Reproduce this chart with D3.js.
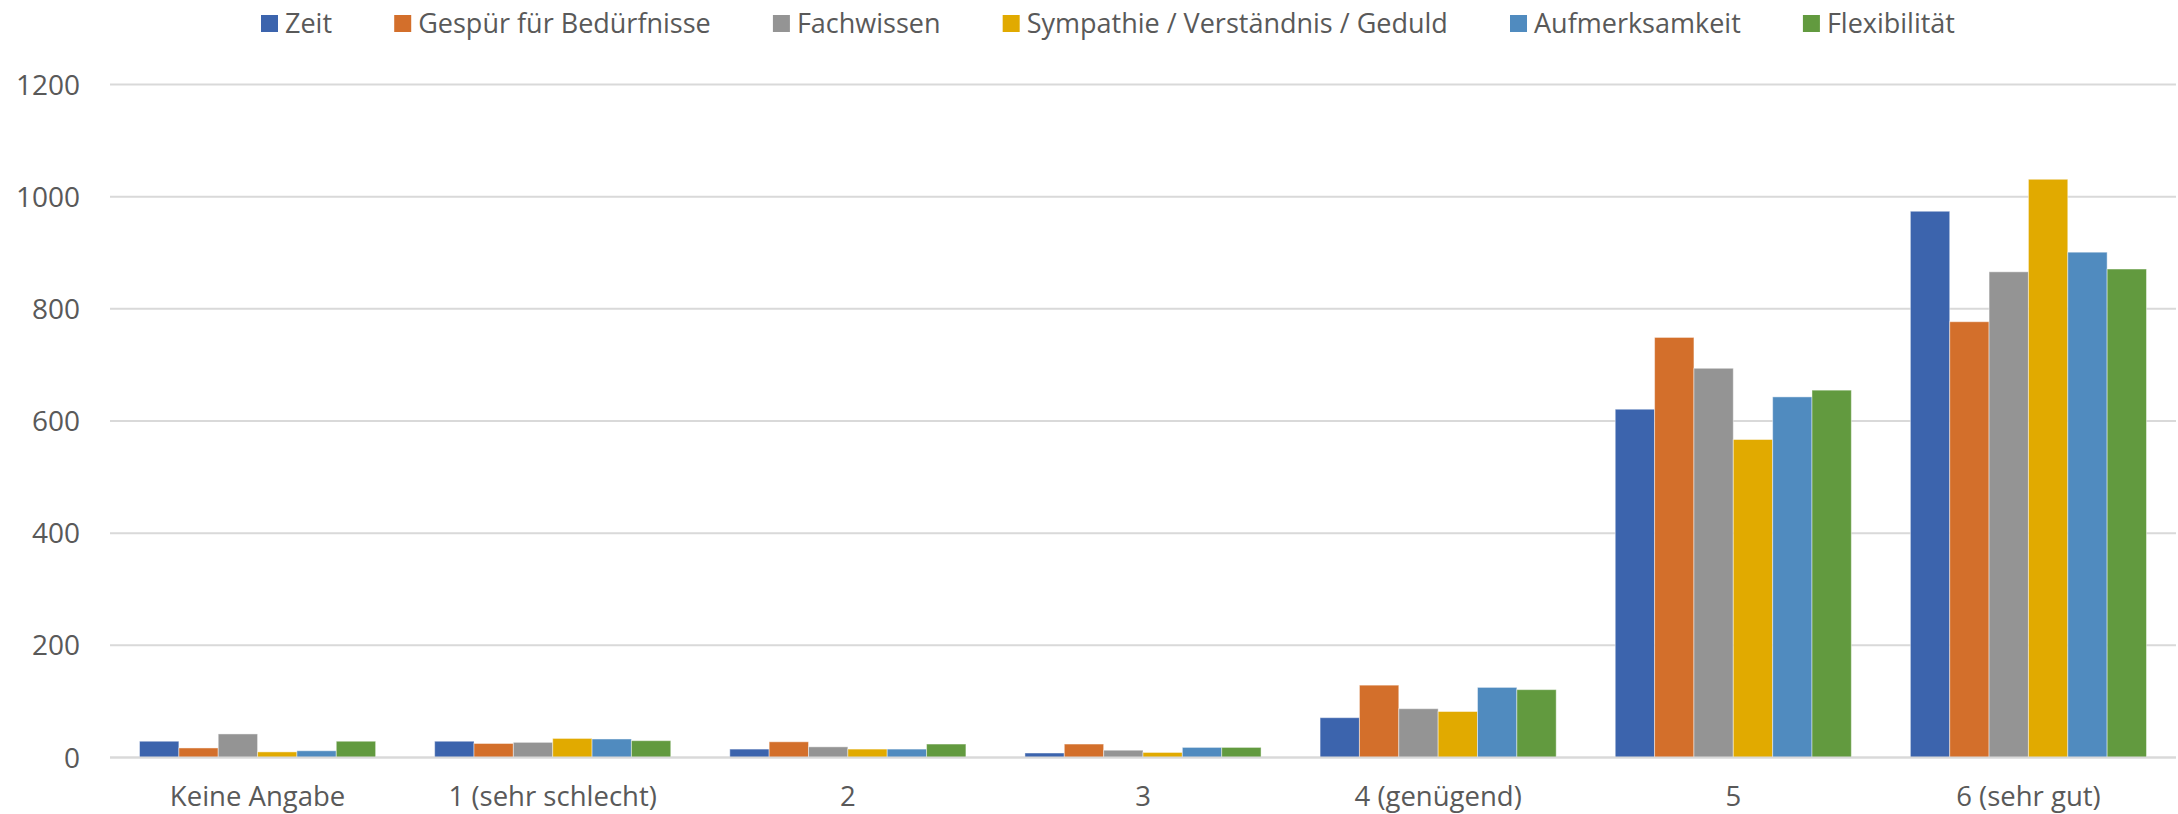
<!DOCTYPE html>
<html>
<head>
<meta charset="utf-8">
<script src="https://cdn.jsdelivr.net/npm/d3@7"></script>
<style>
  html, body { margin: 0; padding: 0; background: #fff; }
  svg { display: block; }
  text { font-family: "Open Sans", "Noto Sans", sans-serif; fill: #595959; }
</style>
</head>
<body>
<svg id="chart" width="2178" height="814"></svg>
<script>
const categories = ["Keine Angabe", "1 (sehr schlecht)", "2", "3", "4 (genügend)", "5", "6 (sehr gut)"];
const seriesNames = ["Zeit", "Gespür für Bedürfnisse", "Fachwissen", "Sympathie / Verständnis / Geduld", "Aufmerksamkeit", "Flexibilität"];
const zeit        = [29, 29, 15, 8, 71, 621, 974];
const gespuer     = [17, 25, 28, 24, 129, 749, 777];
const fachwissen  = [42, 27, 19, 13, 87, 694, 866];
const sympathie   = [10, 34, 15, 9, 82, 567, 1031];
const aufmerksam  = [12, 33, 15, 18, 125, 643, 901];
const flexibel    = [29, 30, 24, 18, 121, 655, 871];
const yTicks = [0, 200, 400, 600, 800, 1000, 1200];
const colors = ["#3C64AD", "#D36F2B", "#949494", "#E1AA00", "#508BBF", "#629A3F"];

const seriesValues = [zeit, gespuer, fachwissen, sympathie, aufmerksam, flexibel];

const svg = d3.select("#chart");
const plotLeft = 110, plotRight = 2176, plotTop = 84.5, plotBottom = 757.5;

const x0 = d3.scaleBand().domain(categories).range([plotLeft, plotRight]).paddingInner(0.2).paddingOuter(0.1);
const x1 = d3.scaleBand().domain(seriesNames).range([0, x0.bandwidth()]).padding(0);
const y = d3.scaleLinear().domain([0, 1200]).range([plotBottom, plotTop]);

// gridlines
svg.append("g").selectAll("line").data(yTicks).join("line")
  .attr("x1", plotLeft).attr("x2", plotRight)
  .attr("y1", d => y(d)).attr("y2", d => y(d))
  .attr("stroke", "#d9d9d9").attr("stroke-width", 2);

// y axis labels
const yAxis = d3.axisLeft(y).tickValues(yTicks).tickFormat(d3.format("d")).tickSize(0).tickPadding(0);
const yg = svg.append("g").attr("transform", `translate(80,0)`).call(yAxis);
yg.select(".domain").remove();
yg.selectAll("text").attr("font-size", 28).attr("fill", "#595959")
  .style("font-family", '"Open Sans", "Noto Sans", sans-serif').attr("dy", "0.34em");

// bars
const groups = svg.append("g").selectAll("g").data(categories).join("g")
  .attr("transform", d => `translate(${x0(d)},0)`);
groups.selectAll("rect")
  .data((c, ci) => seriesNames.map((s, si) => ({ s, si, v: seriesValues[si][ci] })))
  .join("rect")
  .attr("x", d => x1(d.s))
  .attr("width", x1.bandwidth())
  .attr("y", d => y(d.v))
  .attr("height", d => y(0) - y(d.v))
  .attr("fill", d => colors[d.si])
  .attr("stroke", "#ffffff").attr("stroke-opacity", 0.45).attr("stroke-width", 1);

// baseline on top
svg.append("line").attr("x1", plotLeft).attr("x2", plotRight).attr("y1", y(0)).attr("y2", y(0))
  .attr("stroke", "#d9d9d9").attr("stroke-width", 2);

// x axis labels
const xAxis = d3.axisBottom(x0).tickSize(0).tickPadding(0);
const xg = svg.append("g").attr("transform", `translate(0,806)`).call(xAxis);
xg.select(".domain").remove();
xg.selectAll("text").attr("font-size", 27.5).attr("fill", "#595959")
  .style("font-family", '"Open Sans", "Noto Sans", sans-serif').attr("dy", 0).attr("y", 0);

// legend
const legStart = 261, legEnd = 1955, sq = 17, pad = 7;
const leg = svg.append("g");
const items = leg.selectAll("g").data(seriesNames).join("g");
items.append("rect").attr("width", sq).attr("height", sq).attr("y", 15).attr("fill", (d, i) => colors[i]);
items.append("text").attr("x", sq + pad).attr("y", 33).attr("font-size", 27).text(d => d);
const widths = [];
items.each(function () { widths.push(sq + pad + d3.select(this).select("text").node().getComputedTextLength()); });
const total = d3.sum(widths);
const gap = (legEnd - legStart - total) / (seriesNames.length - 1);
let cx = legStart;
items.attr("transform", (d, i) => { const t = `translate(${cx},0)`; cx += widths[i] + gap; return t; });
</script>
</body>
</html>
